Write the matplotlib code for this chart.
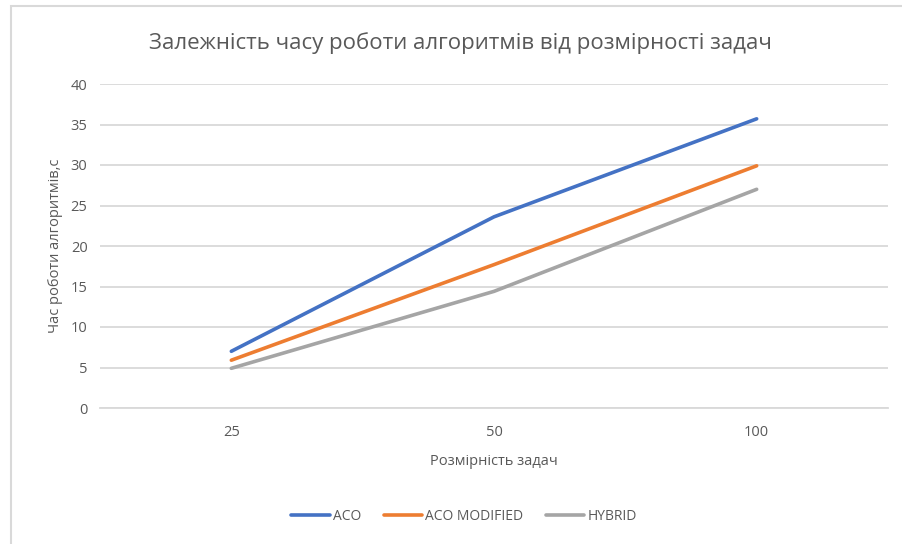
import matplotlib.pyplot as plt
from matplotlib.patches import Rectangle

sizes = ["25", "50", "100"]
aco = [7.0, 23.6, 35.7]
aco_modified = [5.9, 17.7, 29.9]
hybrid = [4.9, 14.4, 27.0]

series = [
    ("ACO", aco, "#4472C4"),
    ("ACO MODIFIED", aco_modified, "#ED7D31"),
    ("HYBRID", hybrid, "#A5A5A5"),
]

plt.rcParams['font.family'] = ['Open Sans', 'DejaVu Sans']
text_color = "#595959"

fig = plt.figure(figsize=(9.02, 5.44), dpi=100)
ax = fig.add_axes([100 / 902, 1 - 408 / 544, (888 - 100) / 902, 324 / 544])

x = list(range(len(sizes)))
for name, values, color in series:
    ax.plot(x, values, color=color, linewidth=2.6, label=name, solid_capstyle="round")

ax.set_xlim(-0.5, len(sizes) - 0.5)
ax.set_ylim(0, 40)
ax.set_yticks(range(0, 41, 5))
ax.set_xticks(x)
ax.set_xticklabels(sizes)
ax.grid(axis="y", color="#D9D9D9", linewidth=1.3)
ax.set_axisbelow(True)
for side in ["top", "right", "left"]:
    ax.spines[side].set_visible(False)
ax.spines["bottom"].set_color("#D9D9D9")
ax.spines["bottom"].set_linewidth(1.3)
ax.tick_params(length=0, labelsize=10.5, colors=text_color, pad=12)
ax.tick_params(axis="y", pad=9)

ax.set_xlabel("Розмірність задач", fontsize=10.5, color=text_color, labelpad=10)
ax.set_ylabel("Час роботи алгоритмів,с", fontsize=10.5, color=text_color)
ax.yaxis.set_label_coords(-37 / 788, 0.5)
fig.text(460 / 902, 1 - 43 / 544, "Залежність часу роботи алгоритмів від розмірності задач",
         ha="center", va="center", fontsize=16, color=text_color)

fig.legend(loc="center", bbox_to_anchor=(464 / 902, 1 - 516 / 544), ncol=3, frameon=False,
           fontsize=10, labelcolor=text_color, handlelength=2.8, columnspacing=1.6,
           handletextpad=0.2)

fig.patches.append(Rectangle((11 / 902, -0.05), 1.1, 1 - 6 / 544 + 0.05, transform=fig.transFigure,
                             fill=False, edgecolor="#D9D9D9", linewidth=1.5))

fig.savefig("out.png", dpi=100)
